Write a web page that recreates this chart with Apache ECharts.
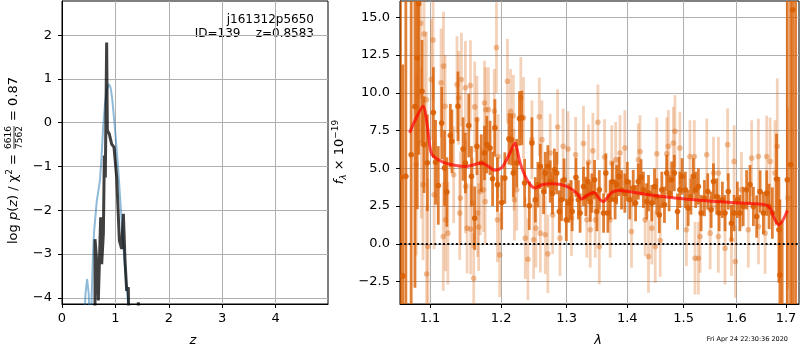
<!DOCTYPE html>
<html>
<head>
<meta charset="utf-8">
<script src="https://cdn.jsdelivr.net/npm/echarts@6/dist/echarts.min.js"></script>
<style>
  html, body { margin: 0; background: #fff; }
  #chart { width: 800px; height: 350px; }
</style>
</head>
<body>
<div id="chart"></div>
<script>
  // --- left panel: log p(z) ---
  const zTicks = [0, 1, 2, 3, 4]
  const logpTicks = [-4, -3, -2, -1, 0, 1, 2]
  // smooth template curve (blue)
  const pzBlue = [
    [0.40, -5.0], [0.44, -3.9], [0.47, -3.57], [0.50, -3.9], [0.53, -5.0], [0.56, -3.8],
    [0.58, -3.0], [0.60, -2.5], [0.65, -1.8], [0.71, -1.32], [0.74, -0.8], [0.77, -0.1],
    [0.805, 0.43], [0.845, 0.78], [0.88, 0.88], [0.91, 0.8], [0.94, 0.55], [0.99, -0.11],
    [1.05, -1.02], [1.10, -1.93], [1.16, -3.0], [1.21, -3.76], [1.25, -4.3], [1.30, -5.0]
  ]
  // fitted chi2 curve (dark)
  const pzDark = [
    [0.618, -4.6], [0.618, -2.66], [0.649, -3.15], [0.680, -4.06], [0.724, -2.16], [0.743, -3.23],
    [0.774, -2.54], [0.793, -0.75], [0.811, -1.25], [0.836, 1.83], [0.849, -0.18], [0.886, -0.26],
    [0.930, -0.49], [0.974, -0.56], [1.024, -1.25], [1.074, -2.69], [1.117, -2.88], [1.149, -2.08],
    [1.180, -3.15], [1.211, -3.84], [1.242, -3.76], [1.25, -4.6], [1.42, -4.6], [1.43, -4.1], [1.44, -4.6]
  ]

  // --- right panel: spectrum ---
  const lamMin = 1.0604
  const lamMax = 1.7272
  const lamTicks = [1.1, 1.2, 1.3, 1.4, 1.5, 1.6, 1.7]
  const fluxTicks = [-2.5, 0, 2.5, 5, 7.5, 10, 12.5, 15]
  // [lambda, flux, err]
  const specDark = [
    [1.061, 4.4, 14], [1.064, -2.12, 14], [1.068, 4.47, 14], [1.075, 5.9, 14], [1.080, 9.1, 12],
    [1.083, 12.3, 10], [1.085, 15.9, 10], [1.0893, 10.1, 3.4], [1.092, 6.57, 3.2], [1.0964, 5.37, 3.2],
    [1.1046, 8.7, 3.0], [1.1075, 5.4, 2.8], [1.1112, 3.87, 2.6], [1.1159, 8.0, 2.4], [1.1197, 5.02, 2.5],
    [1.1229, 3.43, 2.3], [1.1277, 7.17, 2.1], [1.1299, 6.79, 2.1], [1.1383, 9.11, 2.3], [1.1454, 6.28, 2.1],
    [1.1487, 5.35, 2.0], [1.1534, 7.83, 2.1], [1.1572, 4.47, 2.0], [1.1618, 1.70, 2.1], [1.1650, 6.46, 1.9],
    [1.1712, 5.35, 1.9], [1.1758, 6.02, 1.8], [1.1791, 6.57, 1.9], [1.1838, 6.35, 1.8], [1.1875, 4.31, 1.8],
    [1.1909, 7.68, 1.9], [1.1945, 3.92, 1.8], [1.2008, 2.74, 1.8], [1.2054, 4.36, 1.7], [1.2115, 6.95, 1.7],
    [1.2154, 6.9, 1.7], [1.2180, 4.69, 1.6], [1.2231, 5.35, 1.6], [1.2272, 8.3, 1.8], [1.2307, 8.34, 1.8],
    [1.2349, 4.03, 1.6], [1.2420, 2.52, 1.6], [1.2460, 6.68, 1.7], [1.2512, 2.92, 1.5], [1.2552, 3.92, 1.5],
    [1.2589, 5.13, 1.5], [1.2639, 3.47, 1.5], [1.2665, 4.69, 1.4], [1.2705, 5.13, 1.4], [1.2742, 4.13, 1.4],
    [1.2777, 3.36, 1.4], [1.2807, 4.91, 1.4], [1.2843, 4.69, 1.4], [1.2884, 2.14, 1.4], [1.2919, 2.92, 1.4],
    [1.2960, 4.25, 1.4], [1.2995, 1.59, 1.4], [1.3035, 2.70, 1.3], [1.3068, 2.92, 1.3], [1.3089, 2.14, 1.3],
    [1.3150, 4.40, 1.3], [1.3188, 2.92, 1.3], [1.3216, 2.04, 1.3], [1.3271, 3.80, 1.3], [1.3309, 3.14, 1.3],
    [1.3342, 4.13, 1.3], [1.3381, 2.77, 1.3], [1.3408, 3.36, 1.3], [1.3452, 4.25, 1.3], [1.3490, 2.14, 1.3],
    [1.3530, 3.58, 1.3], [1.3601, 2.04, 1.3], [1.3639, 4.69, 1.3], [1.3672, 2.04, 1.3], [1.3711, 2.92, 1.3],
    [1.3749, 4.13, 1.3], [1.3794, 2.92, 1.3], [1.3820, 3.92, 1.3], [1.3860, 4.47, 1.3], [1.3903, 3.58, 1.3],
    [1.3959, 3.36, 1.3], [1.4002, 4.13, 1.3], [1.4044, 2.92, 1.3], [1.4103, 3.7, 1.2], [1.4144, 2.70, 1.2],
    [1.4191, 4.13, 1.2], [1.4239, 4.40, 1.2], [1.4280, 3.58, 1.2], [1.4339, 2.81, 1.2], [1.4369, 3.36, 1.2],
    [1.4427, 2.70, 1.2], [1.4475, 3.80, 1.2], [1.4516, 3.14, 1.2], [1.4559, 1.92, 1.2], [1.4605, 3.58, 1.2],
    [1.4652, 2.59, 1.2], [1.4693, 4.69, 1.2], [1.4736, 3.36, 1.2], [1.4782, 4.25, 1.2], [1.4830, 4.69, 1.2],
    [1.4888, 2.14, 1.2], [1.4931, 3.58, 1.2], [1.4972, 4.47, 1.2], [1.5032, 3.58, 1.2], [1.5083, 2.37, 1.2],
    [1.5134, 3.14, 1.2], [1.5178, 4.47, 1.2], [1.5222, 3.58, 1.2], [1.5273, 3.80, 1.2], [1.5324, 2.04, 1.2],
    [1.5386, 3.03, 1.2], [1.5449, 3.47, 1.2], [1.5513, 2.26, 1.2], [1.5557, 4.13, 1.2], [1.5619, 3.14, 1.2],
    [1.5665, 2.04, 1.2], [1.5727, 2.92, 1.2], [1.5778, 2.04, 1.2], [1.5841, 3.47, 1.2], [1.5903, 1.37, 1.2],
    [1.5955, 2.04, 1.2], [1.6018, 2.92, 1.2], [1.6067, 2.04, 1.2], [1.6133, 2.48, 1.3], [1.6200, 3.58, 1.3],
    [1.6268, 3.92, 1.3], [1.6335, 2.48, 1.3], [1.6401, 1.81, 1.4], [1.6470, 3.47, 1.4], [1.6536, 2.04, 1.4],
    [1.6603, 3.36, 1.5], [1.6651, 2.48, 1.5], [1.6718, 2.04, 1.7], [1.6804, 4.29, 3], [1.6853, 0.93, 3.5],
    [1.6873, -2.06, 5], [1.692, -4.5, 6], [1.7027, 4.25, 14], [1.7096, 5.24, 16], [1.714, 15.5, 20],
    [1.720, 20, 25]
  ]
  const specLight = [
    [1.0817, 5.24, 6], [1.0876, 14.6, 5], [1.0884, 6.68, 5], [1.0907, 3.92, 5], [1.092, 13.9, 4.5],
    [1.0951, 9.55, 4.5], [1.0955, -1.99, 4.5], [1.0973, -0.18, 4.5], [1.1018, 10.88, 4], [1.1042, 13.5, 4],
    [1.1056, 3.25, 3.6], [1.1150, 10.66, 3.6], [1.1180, 0.49, 3.6], [1.1183, 11.77, 3.6], [1.1206, 9.11, 3.4],
    [1.1210, 1.59, 3.4], [1.1243, 0.71, 3.4], [1.1323, 4.58, 3.2], [1.1369, 10.55, 3.2], [1.1393, 9.67, 3.1],
    [1.1407, 2.04, 3.1], [1.1417, 3.03, 3.1], [1.1431, 10.88, 3.1], [1.1487, 10.33, 3.1], [1.1490, 3.80, 3.1],
    [1.1510, 1.04, 3.0], [1.1558, 10.48, 3.0], [1.1561, 0.98, 3.0], [1.1590, 2.70, 3.0], [1.1604, -2.28, 3.0],
    [1.1618, 9.07, 3.0], [1.1650, 8.23, 2.9], [1.1660, 2.04, 2.9], [1.1674, 1.11, 2.9], [1.1698, 3.47, 2.9],
    [1.1744, 3.58, 2.8], [1.1758, 9.33, 2.8], [1.1768, 2.81, 2.8], [1.1776, 8.89, 2.8], [1.1815, 8.89, 2.8],
    [1.1899, 8.78, 2.8], [1.1931, 12.99, 3.0], [1.1945, 1.59, 2.8], [1.1955, 5.79, 2.8], [1.1979, -0.73, 2.8],
    [1.2093, 10.77, 2.8], [1.2139, 8.78, 2.8], [1.2180, 8.49, 2.7], [1.2191, 4.91, 2.7], [1.2196, 2.92, 2.7],
    [1.2231, 3.58, 2.7], [1.2292, 9.67, 2.7], [1.2333, 8.34, 2.7], [1.2359, 0.38, 2.7], [1.2399, -1.02, 2.7],
    [1.2460, 6.9, 2.6], [1.2486, 0.27, 2.6], [1.2521, 1.04, 2.6], [1.2573, 8.41, 2.6], [1.2589, 0.71, 2.6],
    [1.2613, 6.9, 2.6], [1.2665, 0.60, 2.6], [1.2705, -0.66, 2.6], [1.2742, 6.02, 2.6], [1.2781, 1.92, 2.6],
    [1.2858, 7.74, 2.5], [1.2895, 0.38, 2.5], [1.2945, 6.46, 2.5], [1.3023, 6.28, 2.5], [1.3078, 1.70, 2.5],
    [1.3144, 5.9, 2.5], [1.3271, 6.64, 2.5], [1.3325, 1.59, 2.5], [1.3353, 5.40, 2.5], [1.3381, 0.93, 2.5],
    [1.3424, 6.17, 2.5], [1.3464, 1.59, 2.5], [1.3507, 8.05, 2.5], [1.3530, -0.18, 2.5], [1.3617, 5.75, 2.5],
    [1.3711, 1.59, 2.5], [1.3738, 5.35, 2.5], [1.3804, 5.57, 2.5], [1.3877, 6.02, 2.5], [1.3959, 6.35, 2.5],
    [1.4073, 0.82, 2.4], [1.4191, 5.57, 2.4], [1.4222, 6.12, 2.4], [1.4310, 1.59, 2.4], [1.4369, -0.84, 2.4],
    [1.4427, 1.04, 2.4], [1.4488, -0.18, 2.4], [1.4516, 5.97, 2.4], [1.4576, 0.22, 2.4], [1.4693, 5.97, 2.4],
    [1.4723, 6.46, 2.4], [1.4812, 6.68, 2.4], [1.4842, 7.45, 2.4], [1.4931, 6.35, 2.4], [1.5051, 0.93, 2.4],
    [1.5116, 5.79, 2.4], [1.5197, 5.79, 2.4], [1.5210, -0.95, 2.4], [1.5273, -0.95, 2.4], [1.5305, 0.49, 2.4],
    [1.5430, 5.9, 2.4], [1.5494, 0.71, 2.4], [1.5557, 4.69, 2.4], [1.5650, 0.49, 2.4], [1.5652, 4.69, 2.4],
    [1.5778, -0.29, 2.4], [1.5828, 6.57, 2.4], [1.5903, 0.27, 2.4], [1.5955, 5.46, 2.4], [1.5979, -1.17, 2.4],
    [1.6099, 3.58, 2.5], [1.6234, 0.93, 2.5], [1.6300, 5.68, 2.5], [1.6435, 5.79, 2.5], [1.6437, 1.15, 2.5],
    [1.6570, 0.71, 2.7], [1.6603, 5.79, 2.7], [1.6672, 5.46, 2.9], [1.6772, 4.69, 3.5], [1.6819, 6.46, 4.5],
    [1.7041, 3.03, 6]
  ]
  // best-fit template
  const model = [
    [1.0729, 7.35], [1.0813, 8.3], [1.0907, 9.11], [1.0965, 7.8], [1.1018, 6.0], [1.1112, 5.57],
    [1.1252, 5.29], [1.1487, 5.13], [1.1720, 5.35], [1.1813, 5.13], [1.1909, 4.87], [1.2002, 5.02],
    [1.2054, 5.35], [1.2130, 6.02], [1.2206, 6.68], [1.2231, 6.35], [1.2283, 5.35], [1.2359, 4.47],
    [1.2436, 3.92], [1.2512, 3.70], [1.2613, 3.92], [1.2766, 3.98], [1.2919, 3.92], [1.3051, 3.70],
    [1.3160, 3.36], [1.3243, 2.97], [1.3325, 3.19], [1.3436, 3.40], [1.3546, 2.92], [1.3601, 2.81],
    [1.3655, 3.03], [1.3738, 3.40], [1.3848, 3.54], [1.4015, 3.47], [1.4369, 3.25], [1.4842, 3.03],
    [1.5335, 2.87], [1.5903, 2.74], [1.6570, 2.59], [1.6672, 2.37], [1.6758, 1.70], [1.6853, 1.26],
    [1.6940, 1.59], [1.7027, 2.21]
  ]
  const zeroLine = [[lamMin, 0], [lamMax, 0]]

  const font = 'DejaVu Sans'
  const minus = s => String(s).replace('-', '\u2212')
  const toLn = arr => arr.map(p => [Math.log(p[0])].concat(p.slice(1)))

  // errorbar + dot, drawn through the axis scales
  const errorBars = (color, barWidth, barAlpha, dotAlpha) => (params, api) => {
    const x = api.value(0)
    const y = api.value(1)
    const e = api.value(2)
    const c = api.coord([x, y])
    const hi = api.coord([x, y + e])
    const lo = api.coord([x, y - e])
    return {
      type: 'group',
      children: [
        { type: 'line', shape: { x1: c[0], y1: hi[1], x2: c[0], y2: lo[1] },
          style: { stroke: color, lineWidth: barWidth, opacity: barAlpha } },
        { type: 'circle', shape: { cx: c[0], cy: c[1], r: 2.8 },
          style: { fill: color, opacity: dotAlpha } },
      ],
    }
  }

  const axisCommon = {
    axisLine: { show: true, onZero: false, lineStyle: { color: '#000', width: 1 } },
    axisTick: { show: true, length: 4, lineStyle: { color: '#000' } },
    splitLine: { show: true, lineStyle: { color: '#b0b0b0', width: 1 } },
  }
  const labelStyle = { color: '#000', fontFamily: font, fontSize: 13 }

  const chart = echarts.init(document.getElementById('chart'))

  chart.setOption({
    animation: false,
    backgroundColor: '#fff',
    grid: [
      { left: 62, top: 1, width: 266, height: 303, show: true, borderColor: '#000', borderWidth: 1 },
      { left: 400, top: 1, width: 399, height: 303, show: true, borderColor: '#000', borderWidth: 1 },
    ],
    xAxis: [
      {
        ...axisCommon, gridIndex: 0, type: 'value', min: 0, max: 4.98,
        axisLabel: { ...labelStyle, margin: 8, customValues: zTicks },
        axisTick: { ...axisCommon.axisTick, customValues: zTicks },
      },
      {
        ...axisCommon, gridIndex: 1, type: 'value', min: Math.log(lamMin), max: Math.log(lamMax),
        axisLabel: { ...labelStyle, margin: 8, customValues: lamTicks.map(Math.log),
          formatter: v => Math.exp(v).toFixed(1) },
        axisTick: { ...axisCommon.axisTick, customValues: lamTicks.map(Math.log) },
      },
    ],
    yAxis: [
      {
        ...axisCommon, gridIndex: 0, type: 'value', min: -4.14, max: 2.78,
        axisLabel: { ...labelStyle, margin: 10, customValues: logpTicks, formatter: v => minus(v) },
        axisTick: { ...axisCommon.axisTick, customValues: logpTicks },
      },
      {
        ...axisCommon, gridIndex: 1, type: 'value', min: -3.98, max: 16.08,
        axisLabel: { ...labelStyle, margin: 10, customValues: fluxTicks,
          formatter: v => minus(v.toFixed(1)) },
        axisTick: { ...axisCommon.axisTick, customValues: fluxTicks },
      },
    ],
    series: [
      {
        type: 'line', xAxisIndex: 0, yAxisIndex: 0, data: pzBlue, showSymbol: false,
        lineStyle: { color: '#1f77b4', opacity: 0.5, width: 2 }, clip: true,
      },
      {
        type: 'line', xAxisIndex: 0, yAxisIndex: 0, data: pzDark, showSymbol: false,
        lineStyle: { color: '#000', opacity: 0.75, width: 3 }, clip: true,
      },
      {
        type: 'custom', xAxisIndex: 1, yAxisIndex: 1, data: toLn(specLight), clip: true,
        encode: { x: 0, y: 1 }, renderItem: errorBars('#d95f02', 2.8, 0.28, 0.38),
      },
      {
        type: 'custom', xAxisIndex: 1, yAxisIndex: 1, data: toLn(specDark), clip: true,
        encode: { x: 0, y: 1 }, renderItem: errorBars('#d95f02', 2.8, 0.8, 0.9),
      },
      {
        type: 'line', xAxisIndex: 1, yAxisIndex: 1, data: toLn(zeroLine), showSymbol: false,
        lineStyle: { color: '#000', width: 2, type: [2, 2.3] },
      },
      {
        type: 'line', xAxisIndex: 1, yAxisIndex: 1, data: toLn(model), showSymbol: false,
        smooth: 0.3, lineStyle: { color: '#ff0000', opacity: 0.7, width: 3 }, clip: true,
      },
    ],
    graphic: [
      { type: 'text', x: 314, y: 20,
        style: { text: 'j161312p5650', font: '12px "DejaVu Sans"', fill: '#000',
          align: 'right', verticalAlign: 'middle' } },
      { type: 'text', x: 314, y: 34,
        style: { text: 'ID=139    z=0.8583', font: '12px "DejaVu Sans"', fill: '#000',
          align: 'right', verticalAlign: 'middle' } },
      { type: 'text', x: 193, y: 341,
        style: { text: 'z', font: 'italic 13px "DejaVu Sans"', fill: '#000', align: 'center', verticalAlign: 'middle' } },
      { type: 'text', x: 598, y: 341,
        style: { text: 'λ', font: 'italic 13px "DejaVu Sans"', fill: '#000', align: 'center', verticalAlign: 'middle' } },
      { type: 'text', x: 788, y: 339,
        style: { text: 'Fri Apr 24 22:30:36 2020', font: '6.5px "DejaVu Sans"', fill: '#000',
          align: 'right', verticalAlign: 'middle' } },
      // left y label with fraction
      {
        type: 'group', x: 14, y: 152, rotation: Math.PI / 2,
        children: [
          { type: 'text', x: -2, y: 0,
            style: { text: '{n|log }{i|p}{n|(}{i|z}{n|) / χ}{s|2}{n| =}', align: 'right', verticalAlign: 'middle',
              fill: '#000',
              rich: {
                n: { fontFamily: font, fontSize: 13, verticalAlign: 'middle' },
                i: { fontFamily: font, fontSize: 13, fontStyle: 'italic' },
                s: { fontFamily: font, fontSize: 9, verticalAlign: 'top', padding: [0, 0, 8, 0] },
              } } },
          { type: 'text', x: 14.5, y: -5,
            style: { text: '6616', font: '9px "DejaVu Sans"', fill: '#000', align: 'center', verticalAlign: 'middle' } },
          { type: 'line', shape: { x1: 3, y1: 0, x2: 26, y2: 0 }, style: { stroke: '#000', lineWidth: 0.8 } },
          { type: 'text', x: 14.5, y: 6,
            style: { text: '7562', font: '9px "DejaVu Sans"', fill: '#000', align: 'center', verticalAlign: 'middle' } },
          { type: 'text', x: 31, y: 0,
            style: { text: '= 0.87', font: '13px "DejaVu Sans"', fill: '#000', align: 'left', verticalAlign: 'middle' } },
        ],
      },
      // right y label
      {
        type: 'group', x: 340, y: 152, rotation: Math.PI / 2,
        children: [
          { type: 'text', x: 0, y: 0,
            style: { text: '{i|f}{b|λ}{n| × 10}{s|−19}', align: 'center', verticalAlign: 'middle', fill: '#000',
              rich: {
                n: { fontFamily: font, fontSize: 13 },
                i: { fontFamily: font, fontSize: 13, fontStyle: 'italic' },
                b: { fontFamily: font, fontSize: 9, fontStyle: 'italic', padding: [8, 0, 0, 0] },
                s: { fontFamily: font, fontSize: 9, padding: [0, 0, 8, 0] },
              } } },
        ],
      },
    ],
  })
</script>
</body>
</html>
